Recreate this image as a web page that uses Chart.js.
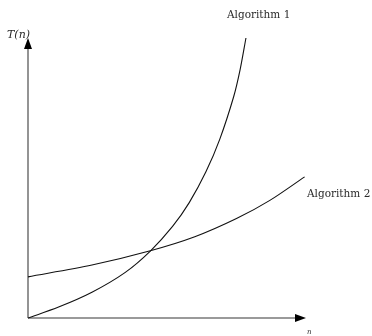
<!DOCTYPE html>
<html>
<head>
<meta charset="utf-8">
<script src="https://cdn.jsdelivr.net/npm/chart.js@4/dist/chart.umd.min.js"></script>
<style>
  html, body { margin: 0; padding: 0; background: #fff; }
</style>
</head>
<body>
<canvas id="growthChart" width="372" height="336"></canvas>
<script>
// x is n (0..10), y is T(n) (0..100)
const algo1N = [0, 1.1, 2.3, 3.5, 4.4, 5.2, 5.8, 6.4, 6.9, 7.4, 7.63, 7.84];
const algo1T = [0, 3.9, 9.2, 16.3, 23.9, 32.7, 41.2, 52.2, 63.9, 79.1, 88.7, 100];
const algo2N = [0, 2.3, 4.4, 6, 7.5, 8.7, 9.95];
const algo2T = [14.7, 18.9, 24.0, 29.0, 35.5, 42, 50.4];

const labelsText = { one: "Algorithm 1", two: "Algorithm 2", yAxis: "T(n)", xAxis: "n" };

const toPoints = (xs, ys) => xs.map((x, i) => ({ x, y: ys[i] }));

const axesPlugin = {
    id: "axesArrows",
    beforeDatasetsDraw(chart) {
        const { ctx, chartArea } = chart;
        const x0 = chartArea.left, y0 = chartArea.bottom;
        ctx.save();
        ctx.strokeStyle = "#7a7a7a";
        ctx.lineWidth = 1.6;
        ctx.beginPath();
        ctx.moveTo(x0, y0);
        ctx.lineTo(x0, chartArea.top + 6);
        ctx.moveTo(x0, y0);
        ctx.lineTo(chartArea.right - 6, y0);
        ctx.stroke();

        // arrow heads
        ctx.fillStyle = "#000";
        ctx.beginPath();
        ctx.moveTo(x0, chartArea.top);
        ctx.lineTo(x0 - 4, chartArea.top + 11);
        ctx.lineTo(x0 + 4, chartArea.top + 11);
        ctx.closePath();
        ctx.fill();
        ctx.beginPath();
        ctx.moveTo(chartArea.right, y0);
        ctx.lineTo(chartArea.right - 11, y0 - 4);
        ctx.lineTo(chartArea.right - 11, y0 + 4);
        ctx.closePath();
        ctx.fill();
        ctx.restore();
    },
    afterDraw(chart) {
        const { ctx } = chart;
        ctx.save();
        ctx.fillStyle = "#2a2a2a";
        ctx.textBaseline = "middle";
        ctx.font = "10.5px 'DejaVu Serif'";
        ctx.fillText(labelsText.one, 227, 15);
        ctx.fillText(labelsText.two, 307, 194);
        ctx.font = "italic 11px 'DejaVu Serif'";
        ctx.fillText(labelsText.yAxis, 7, 35);
        ctx.font = "italic 7px 'DejaVu Serif'";
        ctx.fillText(labelsText.xAxis, 307, 332);
        ctx.restore();
    }
};

new Chart(document.getElementById("growthChart"), {
    type: "scatter",
    data: {
        datasets: [
            {
                label: labelsText.one,
                data: toPoints(algo1N, algo1T),
                showLine: true,
                borderColor: "#111",
                borderWidth: 1.1,
                pointRadius: 0,
                tension: 0.3,
                clip: false,
            },
            {
                label: labelsText.two,
                data: toPoints(algo2N, algo2T),
                showLine: true,
                borderColor: "#111",
                borderWidth: 1.1,
                pointRadius: 0,
                tension: 0.3,
                clip: false,
            }
        ]
    },
    options: {
        responsive: false,
        animation: false,
        layout: { padding: { left: 28, right: 66, top: 38, bottom: 18 } },
        plugins: { legend: { display: false }, tooltip: { enabled: false } },
        scales: {
            x: { type: "linear", min: 0, max: 10, display: false },
            y: { type: "linear", min: 0, max: 100, display: false }
        }
    },
    plugins: [axesPlugin]
});
</script>
</body>
</html>
